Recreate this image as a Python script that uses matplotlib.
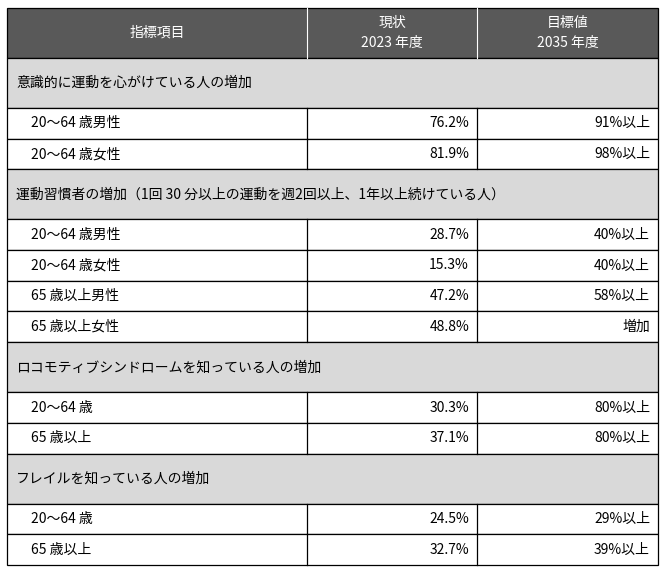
import matplotlib
matplotlib.use("Agg")
import matplotlib.pyplot as plt
from matplotlib.patches import Rectangle

plt.rcParams["font.family"] = ["Noto Sans CJK JP"]

headers = ["指標項目", "現状\n2023 年度", "目標値\n2035 年度"]
sections = [
    "意識的に運動を心がけている人の増加",
    "運動習慣者の増加（1回 30 分以上の運動を週2回以上、1年以上続けている人）",
    "ロコモティブシンドロームを知っている人の増加",
    "フレイルを知っている人の増加",
]
items = [
    ["20～64 歳男性", "20～64 歳女性"],
    ["20～64 歳男性", "20～64 歳女性", "65 歳以上男性", "65 歳以上女性"],
    ["20～64 歳", "65 歳以上"],
    ["20～64 歳", "65 歳以上"],
]
current = [
    ["76.2%", "81.9%"],
    ["28.7%", "15.3%", "47.2%", "48.8%"],
    ["30.3%", "37.1%"],
    ["24.5%", "32.7%"],
]
target = [
    ["91%以上", "98%以上"],
    ["40%以上", "40%以上", "58%以上", "増加"],
    ["80%以上", "80%以上"],
    ["29%以上", "39%以上"],
]

W, H = 672, 576
fig = plt.figure(figsize=(W / 100, H / 100), dpi=100)
ax = fig.add_axes([0, 0, 1, 1])
ax.set_xlim(0, W)
ax.set_ylim(H, 0)
ax.axis("off")

x0, x1, x2, x3 = 7, 307, 477, 658
top = 8
hh = 50
sh = 50
dh = 30.7
fs = 10
lw = 0.9

# header
ax.add_patch(Rectangle((x0, top), x3 - x0, hh, facecolor="#595959", edgecolor="black", lw=lw))
ax.plot([x1, x1], [top, top + hh], color="white", lw=0.8)
ax.plot([x2, x2], [top, top + hh], color="white", lw=0.8)
for (a, b), t in zip([(x0, x1), (x1, x2), (x2, x3)], headers):
    ax.text((a + b) / 2, top + hh / 2, t, color="white", ha="center", va="center",
            fontsize=fs, linespacing=1.6)

y = top + hh
for s, its, cur, tgt in zip(sections, items, current, target):
    ax.add_patch(Rectangle((x0, y), x3 - x0, sh, facecolor="#d9d9d9", edgecolor="black", lw=lw))
    ax.text(x0 + 9, y + sh / 2, s, ha="left", va="center", fontsize=fs)
    y += sh
    for it, c, t in zip(its, cur, tgt):
        ax.add_patch(Rectangle((x0, y), x3 - x0, dh, facecolor="white", edgecolor="black", lw=lw))
        ax.plot([x1, x1], [y, y + dh], color="black", lw=lw)
        ax.plot([x2, x2], [y, y + dh], color="black", lw=lw)
        ax.text(x0 + 24, y + dh / 2, it, ha="left", va="center", fontsize=fs)
        ax.text(x2 - 8, y + dh / 2, c, ha="right", va="center", fontsize=fs)
        ax.text(x3 - 8, y + dh / 2, t, ha="right", va="center", fontsize=fs)
        y += dh

fig.savefig("out.png", dpi=100, facecolor="white")
